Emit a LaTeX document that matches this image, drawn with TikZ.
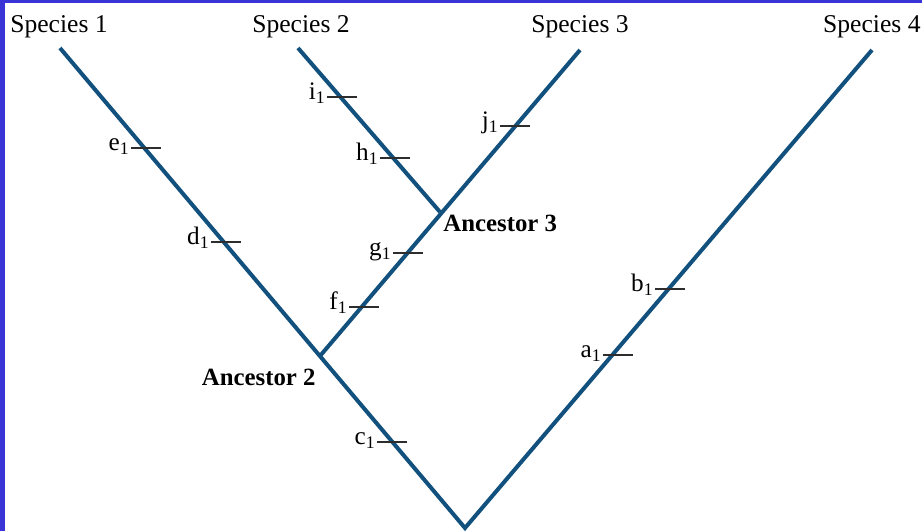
\documentclass[tikz,border=0pt]{standalone}
\usepackage{fontspec}
\setmainfont{Liberation Serif}
\usetikzlibrary{positioning,calc}
\definecolor{branchcolor}{RGB}{18,80,125}
\definecolor{framecolor}{RGB}{58,52,214}
\definecolor{tickcolor}{RGB}{45,45,45}
\tikzset{
  branch/.style={line width=2pt, branchcolor, line join=miter},
  tickln/.style={line width=0.7pt, tickcolor},
  splbl/.style={font=\fontsize{12.8}{15}\selectfont, inner sep=0pt, anchor=base},
  anclbl/.style={font=\fontsize{12.4}{15}\selectfont\bfseries, inner sep=0pt},
  mutlbl/.style={font=\fontsize{12.6}{15}\selectfont, inner sep=0pt, anchor=mid east},
}

\begin{document}
\begin{tikzpicture}[x=0.5pt, y=-0.5pt]
    % frame
    \useasboundingbox (0,0) rectangle (922,531);
    \fill[framecolor] (0,0) rectangle (922,531);
    \fill[white] (5,3) rectangle (922,531);
    % tips, ancestors and root
    \coordinate (sp1) at (60,48);
    \coordinate (sp2) at (298,48);
    \coordinate (sp3) at (580,50);
    \coordinate (sp4) at (872,50);
    \coordinate (root) at (465,528);
    \coordinate (anc2) at (320,356);
    \coordinate (anc3) at (440,212);
    % branches
    \draw[branch] (sp1) -- (root) -- (sp4);
    \draw[branch] (anc2) -- (sp3);
    \draw[branch] (anc3) -- (sp2);
    % species names
    \node[splbl] (n1) at (59,32) {Species 1};
    \node[splbl] (n2) at (301,32) {Species 2};
    \node[splbl] (n3) at (580,32) {Species 3};
    \node[splbl, anchor=base east] (n4) at (921,32) {Species 4};
    % ancestors
    \node[anclbl, anchor=east] (a2) at (316,377) {Ancestor 2};
    \node[anclbl, anchor=west] (a3) at (443,223) {Ancestor 3};
    % character changes
    \foreach \nm/\x/\y in {e/146/148, d/226/242, c/392/442, i/342/97, h/395/158,
                           g/408/253, f/364/307, j/515/126, b/670/289, a/618/355} {
      \coordinate (t\nm) at (\x,\y);
      \draw[tickln] ($(t\nm)+(-15,0)$) -- ($(t\nm)+(15,0)$);
      \node[mutlbl] (l\nm) at ($(t\nm)+(-16,-2)$) {\nm\textsubscript{1}};
    }
\end{tikzpicture}
\end{document}
